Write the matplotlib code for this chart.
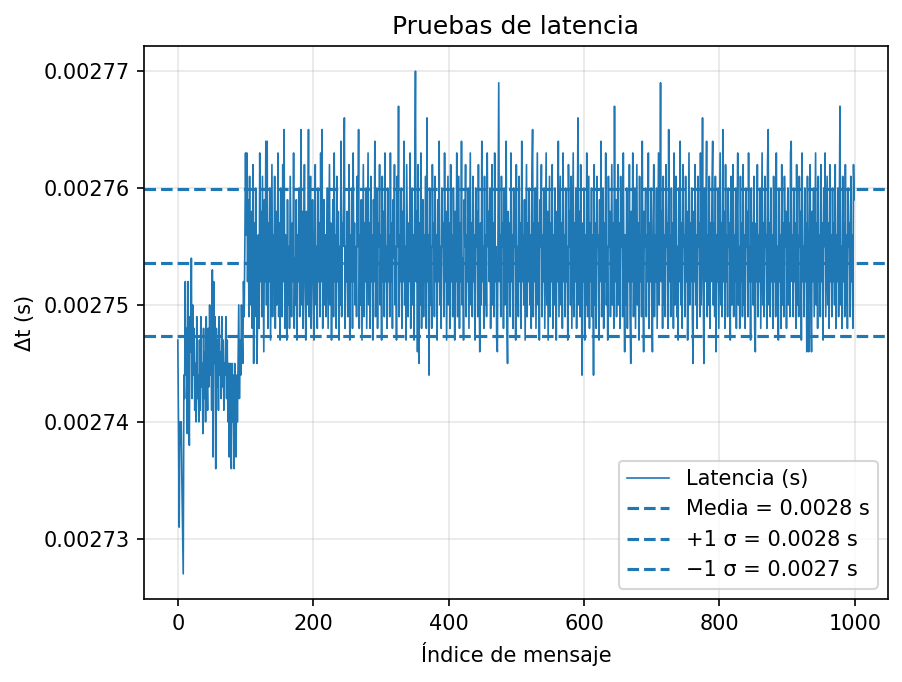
import matplotlib
matplotlib.use("Agg")
import matplotlib.pyplot as plt
from matplotlib.ticker import FormatStrFormatter
import numpy as np

# Latency per message in microseconds
lat_fase1_us = [
    2747, 2740, 2731, 2740, 2738, 2740, 2735, 2731, 2727, 2744,
    2742, 2752, 2744, 2748, 2739, 2752, 2743, 2738, 2749, 2746,
    2754, 2742, 2750, 2744, 2748, 2741, 2745, 2740, 2749, 2742,
    2744, 2740, 2747, 2741, 2749, 2743, 2745, 2739, 2748, 2742,
    2746, 2740, 2749, 2744, 2741, 2748, 2743, 2750, 2744, 2747,
    2741, 2753, 2737, 2752, 2745, 2749, 2736, 2748, 2743, 2747,
    2741, 2749, 2744, 2746, 2742, 2749, 2743, 2747, 2741, 2745,
    2744, 2749, 2742, 2747, 2740, 2745, 2737, 2745, 2740, 2736,
    2745, 2740, 2744, 2736, 2745, 2740, 2737, 2744, 2740, 2745,
    2750, 2742, 2747, 2744, 2750, 2747, 2745, 2752, 2749, 2755,
]

lat_fase2_us = [
    2763, 2756, 2763, 2752, 2759, 2749, 2761, 2750, 2755, 2758, 2748, 2762, 2745, 2757, 2749, 2760, 2755, 2745, 2750, 2756, 2748, 2763, 2752, 2758, 2749, 2761, 2754, 2746, 2759, 2752,
    2764, 2750, 2764, 2748, 2757, 2752, 2760, 2747, 2755, 2762, 2749, 2756, 2752, 2761, 2748, 2758, 2750, 2754, 2763, 2749, 2757, 2747, 2760, 2755, 2749, 2762, 2752, 2765, 2748, 2756,
    2752, 2747, 2759, 2750, 2755, 2748, 2761, 2755, 2749, 2757, 2752, 2763, 2748, 2754, 2750, 2759, 2747, 2756, 2752, 2760, 2749, 2755, 2765, 2750, 2758, 2748, 2755, 2762, 2752, 2747,
    2758, 2750, 2754, 2765, 2749, 2756, 2761, 2748, 2755, 2759, 2752, 2747, 2757, 2762, 2750, 2755, 2748, 2760, 2752, 2757, 2749, 2763, 2752, 2765, 2748, 2754, 2759, 2750, 2756, 2749,
    2755, 2760, 2748, 2755, 2762, 2750, 2757, 2747, 2754, 2759, 2749, 2763, 2752, 2756, 2748, 2761, 2752, 2758, 2747, 2755, 2750, 2764, 2749, 2757, 2755, 2760, 2766, 2748, 2755, 2752,
    2758, 2749, 2754, 2762, 2747, 2756, 2752, 2760, 2748, 2763, 2752, 2757, 2750, 2755, 2749, 2761, 2755, 2765, 2748, 2756, 2750, 2759, 2747, 2754, 2762, 2749, 2757, 2752, 2760, 2748,
    2755, 2763, 2750, 2757, 2748, 2761, 2752, 2756, 2747, 2759, 2752, 2764, 2749, 2754, 2760, 2748, 2757, 2755, 2762, 2750, 2756, 2747, 2761, 2752, 2758, 2749, 2763, 2752, 2755, 2748,
    2760, 2752, 2756, 2749, 2763, 2752, 2757, 2748, 2759, 2754, 2762, 2750, 2755, 2747, 2761, 2755, 2767, 2749, 2756, 2752, 2760, 2748, 2758, 2752, 2764, 2750, 2755, 2747, 2762, 2755,
    2749, 2757, 2752, 2763, 2748, 2755, 2760, 2750, 2756, 2747, 2761, 2770, 2752, 2758, 2746, 2762, 2745, 2757, 2750, 2763, 2748, 2754, 2759, 2749, 2756, 2752, 2761, 2748, 2766, 2752,
    2756, 2744, 2760, 2750, 2755, 2748, 2762, 2755, 2757, 2749, 2761, 2752, 2756, 2747, 2759, 2752, 2764, 2750, 2755, 2748, 2760, 2755, 2757, 2749, 2763, 2752, 2758, 2747, 2754, 2761,
    2750, 2757, 2748, 2762, 2752, 2756, 2749, 2760, 2755, 2747, 2758, 2752, 2763, 2749, 2755, 2761, 2748, 2757, 2752, 2764, 2750, 2754, 2747, 2759, 2755, 2762, 2749, 2756, 2752, 2760,
    2748, 2755, 2763, 2750, 2757, 2749, 2761, 2752, 2756, 2747, 2760, 2755, 2758, 2749, 2762, 2752, 2746, 2757, 2750, 2764, 2752, 2755, 2748, 2761, 2750, 2756, 2749, 2763, 2755, 2758,
    2752, 2760, 2748, 2756, 2762, 2750, 2757, 2749, 2763, 2752, 2755, 2747, 2746, 2758, 2769, 2752, 2756, 2749, 2761, 2755, 2757, 2748, 2760, 2750, 2755, 2764, 2749, 2745, 2758, 2752,
    2757, 2749, 2763, 2752, 2756, 2748, 2760, 2755, 2758, 2747, 2762, 2750, 2755, 2749, 2761, 2752, 2757, 2748, 2764, 2752, 2756, 2750, 2759, 2747, 2754, 2762, 2749, 2757, 2752, 2760,
    2750, 2756, 2748, 2761, 2765, 2749, 2757, 2752, 2760, 2748, 2755, 2763, 2750, 2757, 2747, 2759, 2755, 2762, 2749, 2756, 2752, 2760, 2748, 2755, 2763, 2750, 2758, 2747, 2754, 2761,
    2749, 2757, 2752, 2762, 2748, 2756, 2750, 2760, 2755, 2747, 2758, 2752, 2764, 2749, 2755, 2761, 2750, 2757, 2748, 2763, 2752, 2756, 2749, 2760, 2752, 2755, 2747, 2762, 2755, 2758,
    2750, 2761, 2748, 2756, 2763, 2749, 2757, 2752, 2760, 2748, 2755, 2766, 2750, 2758, 2749, 2762, 2755, 2744, 2757, 2752, 2760, 2747, 2756, 2750, 2763, 2749, 2755, 2761, 2748, 2757,
    2752, 2760, 2749, 2756, 2744, 2762, 2750, 2757, 2748, 2761, 2755, 2756, 2747, 2759, 2752, 2764, 2749, 2755, 2760, 2748, 2757, 2752, 2763, 2750, 2755, 2747, 2761, 2755, 2758, 2749,
    2756, 2762, 2750, 2757, 2748, 2767, 2752, 2759, 2749, 2755, 2762, 2750, 2757, 2748, 2761, 2755, 2758, 2749, 2763, 2752, 2746, 2756, 2750, 2760, 2748, 2757, 2752, 2762, 2749, 2745,
    2758, 2752, 2763, 2749, 2756, 2760, 2748, 2755, 2762, 2750, 2757, 2747, 2761, 2752, 2756, 2749, 2764, 2752, 2746, 2758, 2755, 2760, 2749, 2756, 2752, 2763, 2748, 2757, 2752, 2760,
    2750, 2746, 2757, 2762, 2749, 2756, 2752, 2760, 2748, 2755, 2763, 2750, 2757, 2769, 2752, 2758, 2748, 2761, 2750, 2756, 2749, 2762, 2755, 2757, 2748, 2765, 2752, 2756, 2749, 2760,
    2752, 2757, 2748, 2763, 2750, 2756, 2761, 2749, 2755, 2747, 2760, 2752, 2764, 2750, 2757, 2748, 2762, 2755, 2756, 2749, 2761, 2752, 2758, 2747, 2755, 2763, 2750, 2757, 2752, 2760,
    2749, 2745, 2758, 2752, 2762, 2750, 2756, 2748, 2761, 2755, 2757, 2749, 2763, 2750, 2755, 2766, 2752, 2745, 2760, 2752, 2757, 2764, 2749, 2756, 2750, 2761, 2748, 2757, 2752, 2760,
    2764, 2750, 2757, 2749, 2761, 2746, 2756, 2752, 2760, 2748, 2755, 2763, 2750, 2757, 2749, 2765, 2752, 2758, 2748, 2762, 2752, 2756, 2749, 2760, 2755, 2757, 2747, 2761, 2750, 2755,
    2762, 2749, 2756, 2752, 2760, 2748, 2757, 2763, 2750, 2755, 2748, 2761, 2752, 2757, 2749, 2762, 2750, 2756, 2748, 2760, 2755, 2758, 2749, 2763, 2752, 2755, 2747, 2760, 2752, 2757,
    2750, 2761, 2748, 2746, 2757, 2752, 2762, 2749, 2756, 2752, 2760, 2748, 2755, 2763, 2750, 2757, 2749, 2761, 2755, 2756, 2748, 2762, 2765, 2750, 2757, 2749, 2760, 2752, 2756, 2748,
    2761, 2752, 2757, 2749, 2763, 2750, 2755, 2747, 2760, 2752, 2756, 2748, 2762, 2750, 2757, 2749, 2761, 2755, 2758, 2748, 2755, 2760, 2750, 2757, 2749, 2763, 2764, 2752, 2756, 2749,
    2760, 2752, 2757, 2748, 2762, 2750, 2756, 2749, 2761, 2755, 2758, 2747, 2763, 2752, 2755, 2749, 2760, 2752, 2757, 2746, 2761, 2750, 2746, 2756, 2762, 2750, 2746, 2758, 2752, 2760,
    2749, 2756, 2763, 2750, 2757, 2748, 2761, 2752, 2756, 2749, 2762, 2752, 2757, 2747, 2760, 2755, 2763, 2749, 2755, 2761, 2750, 2757, 2748, 2762, 2752, 2756, 2749, 2760, 2752, 2757,
    2750, 2762, 2748, 2756, 2752, 2760, 2749, 2757, 2767, 2750, 2755, 2748, 2761, 2752, 2757, 2749, 2762, 2750, 2756, 2748, 2760, 2755, 2757, 2749, 2761, 2752, 2756, 2748, 2762, 2759,
]

latencia = np.array(lat_fase1_us + lat_fase2_us, dtype=float) * 1e-6
indice = np.arange(len(latencia))

media = latencia.mean()
sigma = latencia.std()

fig = plt.figure(figsize=(903 / 150, 682 / 150), dpi=150)
ax = fig.add_axes([144 / 903, 1 - 599 / 682, (888 - 144) / 903, (599 - 46) / 682])

ax.plot(indice, latencia, color="C0", linewidth=0.8, label="Latencia (s)")
ax.axhline(media, color="C0", linestyle="--", linewidth=1.5, label=f"Media = {media:.4f} s")
ax.axhline(media + sigma, color="C0", linestyle="--", linewidth=1.5, label=f"+1 σ = {media + sigma:.4f} s")
ax.axhline(media - sigma, color="C0", linestyle="--", linewidth=1.5, label=f"\u22121 σ = {media - sigma:.4f} s")

ax.set_title("Pruebas de latencia")
ax.set_xlabel("Índice de mensaje")
ax.set_ylabel("Δt (s)")
ax.yaxis.set_major_formatter(FormatStrFormatter("%.5f"))
ax.grid(True, alpha=0.3)
ax.legend(loc="lower right")

fig.savefig("out.png", dpi=150)
